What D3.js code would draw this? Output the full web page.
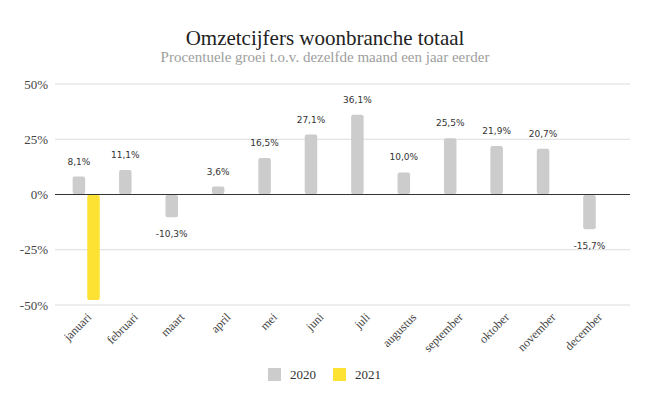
<!DOCTYPE html>
<meta charset="utf-8">
<style>
  body { margin: 0; background: #fff; }
</style>
<body>
<script src="https://d3js.org/d3.v7.min.js"></script>
<script>

// data
var months = ["januari", "februari", "maart", "april", "mei", "juni", "juli",
              "augustus", "september", "oktober", "november", "december"];
var series = ["2020", "2021"];
var values2020 = [8.1, 11.1, -10.3, 3.6, 16.5, 27.1, 36.1, 10.0, 25.5, 21.9, 20.7, -15.7];
var values2021 = [-47.7, null, null, null, null, null, null, null, null, null, null, null];
var yTicks = [-50, -25, 0, 25, 50];

var colors = {"2020": "#cccccc", "2021": "#fee233"};
var serif = "Liberation Serif";

var width = 650, height = 402;

var svg = d3.select("body")
  .append("svg")
    .attr("width", width)
    .attr("height", height)
    .attr("font-family", serif);

// titles
svg.append("text")
  .attr("x", 325).attr("y", 45)
  .attr("text-anchor", "middle")
  .attr("font-family", serif)
  .attr("font-size", 21)
  .attr("fill", "#222")
  .text("Omzetcijfers woonbranche totaal");

svg.append("text")
  .attr("x", 325).attr("y", 62)
  .attr("text-anchor", "middle")
  .attr("font-family", serif)
  .attr("font-size", 15)
  .attr("fill", "#9e9e9e")
  .text("Procentuele groei t.o.v. dezelfde maand een jaar eerder");

// scales
var x = d3.scaleBand()
  .domain(months)
  .range([63, 620]);

var xSub = d3.scaleBand()
  .domain(series)
  .range([0, x.bandwidth()])
  .paddingInner(0.144)
  .paddingOuter(0.66);

var y = d3.scaleLinear()
  .domain([-50, 50])
  .range([305, 84]);

// gridlines
svg.append("g")
  .selectAll("line")
  .data(yTicks)
  .enter()
  .append("line")
    .attr("x1", 55).attr("x2", 630)
    .attr("y1", function(d){ return y(d) })
    .attr("y2", function(d){ return y(d) })
    .attr("stroke", function(d){ return d === 0 ? "#333" : "#dcdcdc" })
    .attr("stroke-width", 1);

// y labels
svg.append("g")
  .selectAll("text")
  .data(yTicks)
  .enter()
  .append("text")
    .attr("x", 48)
    .attr("y", function(d){ return y(d) + 4.5 })
    .attr("text-anchor", "end")
    .attr("font-family", serif)
    .attr("font-size", 13)
    .attr("fill", "#444")
    .text(function(d){ return d + "%" });

// bars
var dataReady = [];
months.forEach(function(m, i) {
  dataReady.push({month: m, serie: "2020", value: values2020[i]});
  dataReady.push({month: m, serie: "2021", value: values2021[i]});
});
var barData = dataReady.filter(function(d){ return d.value !== null });

svg.append("g")
  .selectAll("rect")
  .data(barData)
  .enter()
  .append("rect")
    .attr("x", function(d){ return x(d.month) + xSub(d.serie) })
    .attr("width", xSub.bandwidth())
    .attr("y", function(d){ return d.value >= 0 ? y(d.value) : y(0) + 0.5 })
    .attr("height", function(d){ return Math.abs(y(d.value) - y(0)) - 0.5 })
    .attr("rx", 2)
    .attr("fill", function(d){ return colors[d.serie] });

// data labels (2020 only)
svg.append("g")
  .selectAll("text")
  .data(barData.filter(function(d){ return d.serie === "2020" }))
  .enter()
  .append("text")
    .attr("x", function(d){ return x(d.month) + xSub(d.serie) + xSub.bandwidth() / 2 })
    .attr("y", function(d){ return d.value >= 0 ? y(d.value) - 12 : y(d.value) + 20 })
    .attr("text-anchor", "middle")
    .attr("font-family", "DejaVu Sans")
    .attr("font-size", 9)
    .attr("fill", "#333")
    .text(function(d){ return d.value.toFixed(1).replace(".", ",") + "%" });

// x labels
svg.append("g")
  .selectAll("text")
  .data(months)
  .enter()
  .append("text")
    .attr("transform", function(d){
      return "translate(" + (x(d) + x.bandwidth() / 2 + 6) + ",318) rotate(-45)";
    })
    .attr("text-anchor", "end")
    .attr("font-family", serif)
    .attr("font-size", 12)
    .attr("fill", "#444")
    .text(function(d){ return d });

// legend
var legend = svg.append("g")
  .selectAll("g")
  .data(series)
  .enter()
  .append("g")
    .attr("transform", function(d, i){ return "translate(" + (268 + i * 65) + ",368)" });

legend.append("rect")
  .attr("width", 13).attr("height", 13)
  .attr("fill", function(d){ return colors[d] });

legend.append("text")
  .attr("x", 22).attr("y", 11)
  .attr("font-family", serif)
  .attr("font-size", 13)
  .attr("fill", "#333")
  .text(function(d){ return d });

</script>
</body>
